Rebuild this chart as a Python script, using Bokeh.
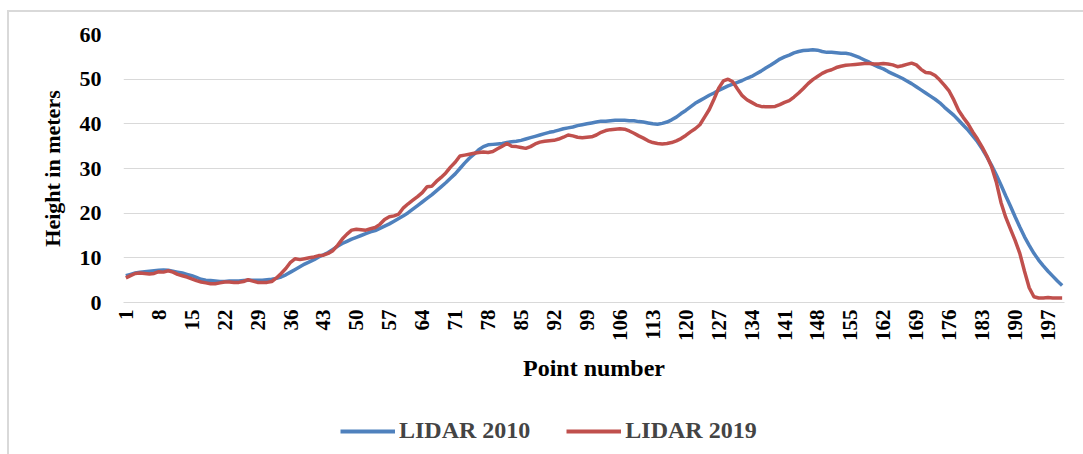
from math import pi
from bokeh.plotting import figure
from bokeh.layouts import column
from bokeh.models import FixedTicker, Legend, LegendItem, Range1d
from bokeh.embed import file_html
from bokeh.resources import INLINE

points = list(range(1, 201))

lidar_2010 = [
    6.0, 6.3, 6.6, 6.8, 6.9, 7.0, 7.1, 7.2, 7.3, 7.2,
    7.0, 6.8, 6.6, 6.3, 6.0, 5.6, 5.2, 5.0, 4.9, 4.8,
    4.7, 4.7, 4.8, 4.8, 4.8, 4.9, 5.0, 5.0, 5.0, 5.0,
    5.1, 5.2, 5.4, 5.7, 6.2, 6.8, 7.4, 8.0, 8.6, 9.1,
    9.6, 10.2, 10.7, 11.2, 11.9, 12.6, 13.2, 13.7, 14.2, 14.6,
    15.0, 15.4, 15.8, 16.1, 16.6, 17.1, 17.6, 18.2, 18.8, 19.4,
    20.1, 20.9, 21.7, 22.5, 23.3, 24.1, 25.0, 25.9, 26.8, 27.8,
    28.8, 30.0, 31.2, 32.3, 33.2, 34.2, 34.9, 35.3, 35.4, 35.5,
    35.6, 35.8, 36.0, 36.1, 36.3, 36.6, 36.9, 37.2, 37.5, 37.8,
    38.1, 38.3, 38.6, 38.9, 39.1, 39.3, 39.6, 39.8, 40.0, 40.2,
    40.4, 40.6, 40.6, 40.7, 40.8, 40.8, 40.8, 40.7, 40.7, 40.5,
    40.4, 40.2, 40.0, 39.9, 40.1, 40.4, 40.9, 41.5, 42.3, 43.0,
    43.8, 44.6, 45.2, 45.8, 46.4, 46.9, 47.5, 48.0, 48.5, 48.9,
    49.3, 49.7, 50.2, 50.6, 51.2, 51.8, 52.5, 53.1, 53.8, 54.5,
    55.0, 55.4, 55.9, 56.2, 56.4, 56.5, 56.6, 56.5, 56.2, 56.0,
    56.0, 55.9, 55.8, 55.8, 55.6, 55.2, 54.8, 54.3, 53.8, 53.2,
    52.7, 52.3, 51.7, 51.2, 50.7, 50.2, 49.6, 49.0, 48.3, 47.6,
    46.9, 46.2, 45.5, 44.7, 43.7, 42.8, 41.9, 40.8, 39.7, 38.6,
    37.3, 36.0, 34.4, 32.6, 30.7, 28.6, 26.3, 23.9, 21.6, 19.2,
    16.9, 14.7, 12.8, 11.0, 9.5, 8.2, 7.0, 5.9, 4.8, 3.8,
]

lidar_2019 = [
    5.5, 6.0, 6.5, 6.6, 6.5, 6.4, 6.5, 6.9, 6.8, 7.1,
    6.8, 6.3, 6.0, 5.7, 5.3, 4.9, 4.6, 4.4, 4.2, 4.2,
    4.4, 4.6, 4.6, 4.5, 4.5, 4.7, 5.1, 4.8, 4.5, 4.5,
    4.5, 4.7, 5.5, 6.5, 7.6, 9.0, 9.8, 9.6, 9.8, 10.0,
    10.2, 10.5, 10.6, 11.0, 11.6, 12.8, 14.2, 15.3, 16.2, 16.4,
    16.3, 16.2, 16.5, 16.8, 17.5, 18.6, 19.2, 19.4, 19.8, 21.2,
    22.1, 22.9, 23.7, 24.6, 25.9, 26.0, 27.1, 28.0, 29.0, 30.3,
    31.4, 32.8, 33.0, 33.2, 33.4, 33.6, 33.7, 33.6, 33.8, 34.4,
    35.0, 35.6, 35.0, 34.9, 34.7, 34.5, 34.9, 35.5, 35.9, 36.1,
    36.2, 36.3, 36.6, 37.0, 37.5, 37.3, 37.0, 36.9, 37.0, 37.1,
    37.5, 38.1, 38.5, 38.7, 38.8, 38.9, 38.8, 38.4, 37.9, 37.3,
    36.8, 36.2, 35.8, 35.6, 35.5, 35.6, 35.8, 36.2, 36.7, 37.4,
    38.2, 38.9, 39.8, 41.5, 43.2, 45.5, 48.0, 49.6, 50.0, 49.4,
    47.8, 46.3, 45.4, 44.8, 44.2, 43.9, 43.8, 43.8, 43.9, 44.3,
    44.8, 45.2, 46.0, 46.9, 47.9, 49.0, 49.9, 50.6, 51.3, 51.8,
    52.1, 52.6, 52.9, 53.1, 53.2, 53.3, 53.4, 53.5, 53.5, 53.4,
    53.4, 53.5, 53.4, 53.2, 52.8, 53.0, 53.3, 53.6, 53.2, 52.2,
    51.5, 51.4, 50.8, 49.8, 48.6, 47.3, 45.3, 43.0, 41.4, 40.0,
    38.2, 36.6, 34.8, 32.8, 30.4, 27.0, 22.4, 19.1, 16.5, 13.9,
    11.0, 7.0, 3.3, 1.3, 1.0, 1.0, 1.1, 1.0, 1.0, 1.0,
]

x_ticks = list(range(1, 201, 7))
y_ticks = [0, 10, 20, 30, 40, 50, 60]
series_names = ["LIDAR 2010", "LIDAR 2019"]
series_colors = ["#4F81BD", "#C0504D"]
series_values = [lidar_2010, lidar_2019]

FONT = "Liberation Serif"
FIG_W = 1074

# ---------------- main chart ----------------
p = figure(width=FIG_W, height=383, output_backend="svg", toolbar_location=None,
           x_range=Range1d(0.5, 200.5), y_range=Range1d(0, 60))
p.min_border_left = 114
p.min_border_top = 22
p.min_border_right = 19
p.min_border_bottom = 93
p.outline_line_color = None
p.background_fill_color = "white"

for vals, col in zip(series_values, series_colors):
    p.line(points, vals, line_color=col, line_width=3.5)

p.xaxis.ticker = FixedTicker(ticks=x_ticks)
p.yaxis.ticker = FixedTicker(ticks=y_ticks)
p.xgrid.grid_line_color = None
p.ygrid.grid_line_color = "#d9d9d9"
p.ygrid.grid_line_width = 1

for ax in (p.xaxis[0], p.yaxis[0]):
    ax.major_tick_line_color = None
    ax.minor_tick_line_color = None
    ax.major_tick_in = 0
    ax.major_tick_out = 0
    ax.minor_tick_in = 0
    ax.minor_tick_out = 0
    ax.major_label_text_font = FONT
    ax.major_label_text_font_style = "bold"
    ax.major_label_text_color = "black"
    ax.axis_label_text_font = FONT
    ax.axis_label_text_font_style = "bold"
    ax.axis_label_text_color = "black"

p.yaxis.axis_line_color = None
p.yaxis.major_label_text_font_size = "22px"
p.yaxis.major_label_standoff = 22
p.yaxis.axis_label = "Height in meters"
p.yaxis.axis_label_text_font_size = "22px"
p.yaxis.axis_label_standoff = 12

p.xaxis.axis_line_color = "#d9d9d9"
p.xaxis.axis_line_width = 1
p.xaxis.major_label_orientation = pi / 2
p.xaxis.major_label_text_font_size = "21px"
p.xaxis.major_label_standoff = 7
p.xaxis.axis_label = "Point number"
p.xaxis.axis_label_text_font_size = "24px"
p.xaxis.axis_label_standoff = 11

# ---------------- legend strip (frame is aligned with the chart above) ----------------
leg_h = 454 - 12 - 383
lf = figure(width=FIG_W, height=leg_h, output_backend="svg", toolbar_location=None,
            x_range=Range1d(0.5, 200.5), y_range=Range1d(1000, 1001),
            x_axis_location=None, y_axis_location=None)
lf.min_border = 0
lf.outline_line_color = None
lf.xgrid.grid_line_color = None
lf.ygrid.grid_line_color = None
items = []
for name, vals, col in zip(series_names, series_values, series_colors):
    # same series, drawn outside this strip's y-range: only the legend sample shows
    r = lf.line(points, vals, line_color=col, line_width=4)
    items.append(LegendItem(label=name, renderers=[r]))
legend = Legend(items=items, orientation="horizontal", location=(217, 10))
legend.label_text_font = FONT
legend.label_text_font_style = "bold"
legend.label_text_font_size = "24px"
legend.glyph_width = 55
legend.glyph_height = 24
legend.label_standoff = 4
legend.spacing = 36
legend.padding = 0
legend.margin = 0
legend.border_line_color = None
legend.background_fill_alpha = 0
lf.add_layout(legend, "center")

layout = column(p, lf, spacing=0)
layout.styles = {"margin-left": "7px", "margin-top": "10px",
                 "border-left": "2px solid #d9d9d9", "border-top": "2px solid #d9d9d9"}

open("out.html", "w").write(file_html(layout, INLINE))
